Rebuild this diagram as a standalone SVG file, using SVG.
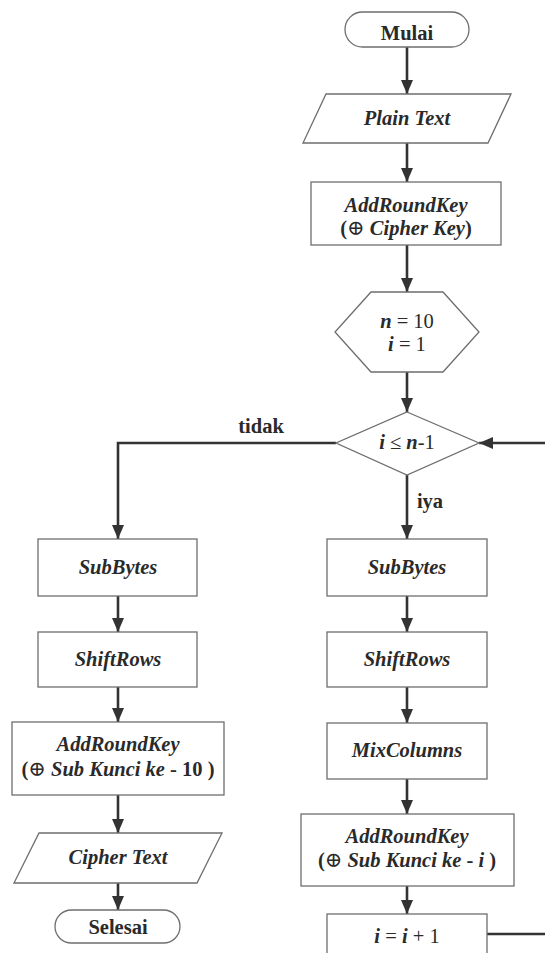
<svg xmlns="http://www.w3.org/2000/svg" width="545" height="953" viewBox="0 0 545 953">
  <style>
    .shape { fill: #ffffff; stroke: #6e6e6e; stroke-width: 1.3; }
    .flow { fill: none; stroke: #333333; stroke-width: 2.6; }
    text { font-family: "Liberation Serif", "Times New Roman", "DejaVu Serif", serif; font-size: 20.5px; fill: #2a2a2a; text-anchor: middle; }
    .b { font-weight: bold; }
    .bi { font-weight: bold; font-style: italic; }
    .r { font-weight: normal; font-style: normal; }
    .sym { font-family: "DejaVu Serif", "Liberation Serif", serif; font-weight: normal; font-size: 21px; }
  </style>
  <defs>
    <marker id="arrow" markerUnits="userSpaceOnUse" markerWidth="14" markerHeight="14" viewBox="0 0 14 14" refX="14" refY="7" orient="auto">
      <path d="M0,1 L14,7 L0,13 Z" fill="#333333"/>
    </marker>
  </defs>

  <!-- connectors -->
  <g id="connectors">
    <path class="flow" marker-end="url(#arrow)" d="M407,47 V94"/>
    <path class="flow" marker-end="url(#arrow)" d="M407,143 V182"/>
    <path class="flow" marker-end="url(#arrow)" d="M407,245 V292"/>
    <path class="flow" marker-end="url(#arrow)" d="M407,372 V412"/>
    <path class="flow" marker-end="url(#arrow)" d="M407,475 V539"/>
    <path class="flow" marker-end="url(#arrow)" d="M407,596 V632"/>
    <path class="flow" marker-end="url(#arrow)" d="M407,687 V723"/>
    <path class="flow" marker-end="url(#arrow)" d="M407,779 V814"/>
    <path class="flow" marker-end="url(#arrow)" d="M407,886 V914"/>
    <path class="flow" marker-end="url(#arrow)" d="M487,934 H548 V443 H479"/>
    <path class="flow" marker-end="url(#arrow)" d="M336,443 H118 V539"/>
    <path class="flow" marker-end="url(#arrow)" d="M118,596 V632"/>
    <path class="flow" marker-end="url(#arrow)" d="M118,687 V722"/>
    <path class="flow" marker-end="url(#arrow)" d="M118,795 V833"/>
    <path class="flow" marker-end="url(#arrow)" d="M118,883 V910"/>
    <text class="b" x="261" y="433">tidak</text>
    <text class="b" x="430" y="508">iya</text>
  </g>

  <g id="mulai">
    <rect class="shape" x="345" y="12" width="124" height="35" rx="17.5"/>
    <text class="b" x="407" y="40">Mulai</text>
  </g>

  <g id="plain-text">
    <polygon class="shape" points="326,94 511,94 488,143 303,143"/>
    <text class="bi" x="407" y="125">Plain Text</text>
  </g>

  <g id="add-round-key-0">
    <rect class="shape" x="311" y="182" width="190" height="63"/>
    <text class="bi" x="406" y="212">AddRoundKey</text>
    <text x="406" y="235"><tspan class="b">(</tspan><tspan class="sym">⊕</tspan><tspan class="bi"> Cipher Key</tspan><tspan class="b">)</tspan></text>
  </g>

  <g id="init">
    <polygon class="shape" points="371,292 443,292 479,332 443,372 371,372 335,332"/>
    <text x="407" y="328"><tspan class="bi">n</tspan><tspan class="r"> = 10</tspan></text>
    <text x="407" y="351"><tspan class="bi">i</tspan><tspan class="r"> = 1</tspan></text>
  </g>

  <g id="condition">
    <polygon class="shape" points="407,412 479,443 407,475 336,443"/>
    <text x="407" y="449"><tspan class="bi">i</tspan><tspan class="r"> ≤ </tspan><tspan class="bi">n</tspan><tspan class="r">-1</tspan></text>
  </g>

  <!-- main rounds -->
  <g id="sub-bytes-r">
    <rect class="shape" x="327" y="539" width="160" height="57"/>
    <text class="bi" x="407" y="574">SubBytes</text>
  </g>
  <g id="shift-rows-r">
    <rect class="shape" x="327" y="632" width="160" height="55"/>
    <text class="bi" x="407" y="666">ShiftRows</text>
  </g>
  <g id="mix-columns">
    <rect class="shape" x="327" y="723" width="160" height="56"/>
    <text class="bi" x="407" y="757">MixColumns</text>
  </g>
  <g id="add-round-key-i">
    <rect class="shape" x="301" y="814" width="213" height="72"/>
    <text class="bi" x="407" y="843">AddRoundKey</text>
    <text x="407" y="867"><tspan class="b">(</tspan><tspan class="sym">⊕</tspan><tspan class="bi"> Sub Kunci ke</tspan><tspan class="b"> - </tspan><tspan class="bi">i</tspan><tspan class="b"> )</tspan></text>
  </g>
  <g id="increment">
    <rect class="shape" x="327" y="914" width="160" height="60"/>
    <text x="407" y="943"><tspan class="bi">i</tspan><tspan class="r"> = </tspan><tspan class="bi">i</tspan><tspan class="r"> + 1</tspan></text>
  </g>

  <!-- final round -->
  <g id="sub-bytes-l">
    <rect class="shape" x="38" y="539" width="159" height="57"/>
    <text class="bi" x="118" y="574">SubBytes</text>
  </g>
  <g id="shift-rows-l">
    <rect class="shape" x="38" y="632" width="159" height="55"/>
    <text class="bi" x="118" y="666">ShiftRows</text>
  </g>
  <g id="add-round-key-10">
    <rect class="shape" x="12" y="722" width="212" height="73"/>
    <text class="bi" x="118" y="751">AddRoundKey</text>
    <text x="118" y="776"><tspan class="b">(</tspan><tspan class="sym">⊕</tspan><tspan class="bi"> Sub Kunci ke</tspan><tspan class="b"> - 10 )</tspan></text>
  </g>
  <g id="cipher-text">
    <polygon class="shape" points="39,833 222,833 197,883 14,883"/>
    <text class="bi" x="118" y="864">Cipher Text</text>
  </g>
  <g id="selesai">
    <rect class="shape" x="55" y="910" width="125" height="33" rx="16.5"/>
    <text class="b" x="118" y="934">Selesai</text>
  </g>
</svg>
